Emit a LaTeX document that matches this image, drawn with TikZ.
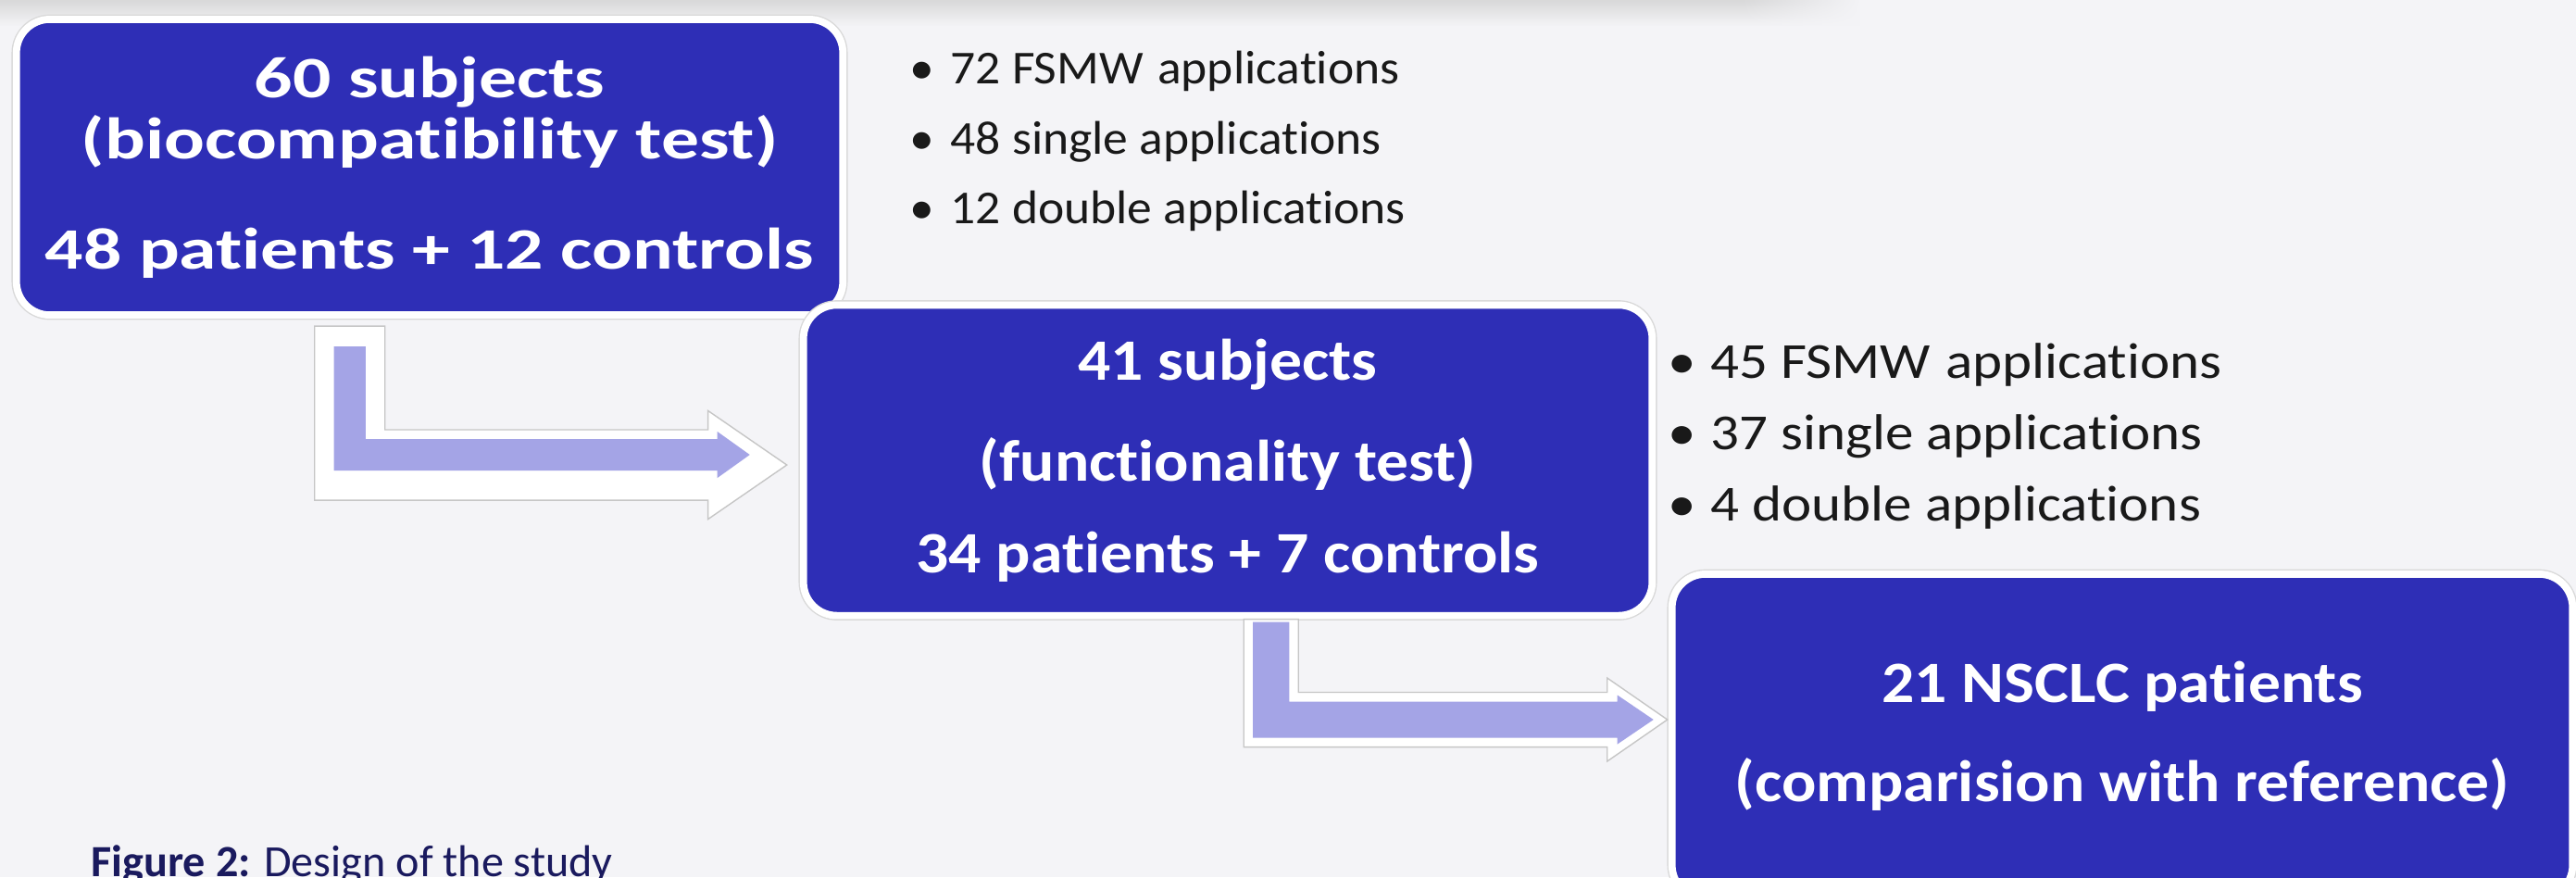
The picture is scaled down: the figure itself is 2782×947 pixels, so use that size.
\documentclass[tikz,border=0pt]{standalone}
\usepackage{fontspec}
\setmainfont[Ligatures={TeX,NoCommon}]{Carlito}
\newfontfamily\stagefont[FakeStretch=1.10,Ligatures={TeX,NoCommon}]{Carlito}
\newfontfamily\firststagefont[FakeStretch=1.29,Ligatures={TeX,NoCommon}]{Carlito}
\newfontfamily\countfont[FakeStretch=1.05,Ligatures={TeX,NoCommon}]{Carlito}
\newfontfamily\countfontb[FakeStretch=1.12,Ligatures={TeX,NoCommon}]{Carlito}
\usetikzlibrary{positioning,calc,fadings}

\definecolor{bgcol}{HTML}{F4F4F7}
\definecolor{boxblue}{HTML}{2E2EB6}
\definecolor{arrowlilac}{HTML}{A4A4E6}
\definecolor{capnavy}{HTML}{1A1A5E}

% bent block arrow: style, top of the stem, tip, half bar, half head, head length
\newcommand{\bentarrow}[6]{%
  \path[#1] let \p1=(#2), \p3=(#3) in
    (\x1-#4,\y1) -- (\x1+#4,\y1) -- (\x1+#4,\y3+#4) -- (\x3-#6,\y3+#4)
    -- (\x3-#6,\y3+#5) -- (\x3,\y3) -- (\x3-#6,\y3-#5) -- (\x3-#6,\y3-#4)
    -- (\x1-#4,\y3-#4) -- cycle;}

\begin{document}
\begin{tikzpicture}[x=0.01cm, y=-0.01cm,
    studybox/.style={rectangle, rounded corners=0.36cm, fill=boxblue, draw=white, line width=2.2pt,
        preaction={draw=gray!30, line width=3pt}, outer sep=0pt, inner sep=0pt,
        text=white, align=center, font=\stagefont\bfseries\fontsize{18}{21.3}\selectfont},
    bullettext/.style={anchor=base west, inner sep=0pt, text=black!90,
        font=\countfont\fontsize{14.5}{18}\selectfont},
    arrowshade/.style={fill=white, draw=gray!45, line width=0.4pt},
    arrowcore/.style={fill=arrowlilac}
]
    \useasboundingbox (0,0) rectangle (2782,947);
    \clip (0,0) rectangle (2782,947);
    \fill[bgcol] (0,0) rectangle (2782,947);
    \fill[gray!30, path fading=south] (0,0) rectangle (2010,28);
    \fill[bgcol, path fading=west] (1880,0) rectangle (2012,30);

    % the three stages
    \node[studybox, minimum width=8.92cm, minimum height=3.19cm,
          font=\firststagefont\bfseries\fontsize{18}{21.3}\selectfont] (b1) at (464,180.5)
        {60 subjects\\[-2.6pt](biocompatibility test)\\[12.5pt]48 patients + 12 controls};
    \node[studybox, minimum width=9.16cm, minimum height=3.35cm] (b2) at (1326,497)
        {41 subjects\\[9.7pt](functionality test)\\[6.8pt]34 patients + 7 controls};
    \node[studybox, minimum width=9.72cm, minimum height=3.50cm] (b3) at (2292,795)
        {21 NSCLC patients\\[9.2pt](comparision with reference)};

    % arrows between the stages
    \coordinate (a1top) at ($(b1.south west)+(360,34)$);
    \coordinate (a1tip) at ($(b2.west)+(-58,-6)$);
    \coordinate (a2top) at ($(b2.south west)+(505,7)$);
    \coordinate (a2tip) at ($(b3.west)+(-20,-18)$);
    \bentarrow{arrowshade}{$(a1top)+(0,-22)$}{$(a1tip)+(40,11)$}{0.38cm}{0.585cm}{0.85cm}
    \bentarrow{arrowcore}{a1top}{a1tip}{0.17cm}{0.25cm}{0.35cm}
    \bentarrow{arrowshade}{$(a2top)+(0,-3)$}{$(a2tip)+(15,0)$}{0.295cm}{0.45cm}{0.65cm}
    \bentarrow{arrowcore}{a2top}{a2tip}{0.195cm}{0.265cm}{0.39cm}

    % counts of applications
    \node[bullettext] (l1a) at (982,90) {\makebox[0.44cm][l]{•}72 FSMW\hspace{0.3em}applications};
    \node[bullettext] (l1b) at (982,166) {\makebox[0.44cm][l]{•}48 single applications};
    \node[bullettext] (l1c) at (982,241) {\makebox[0.44cm][l]{•}12 double applications};
    \node[bullettext, font=\countfontb\fontsize{15.5}{18}\selectfont] (l2a) at (1801,408)
        {\makebox[0.46cm][l]{•}45 FSMW\hspace{0.3em}applications};
    \node[bullettext, font=\countfontb\fontsize{15.5}{18}\selectfont] (l2b) at (1801,485)
        {\makebox[0.46cm][l]{•}37 single applications};
    \node[bullettext, font=\countfontb\fontsize{15.5}{18}\selectfont] (l2c) at (1801,562)
        {\makebox[0.46cm][l]{•}4 double applications};

    \node[anchor=base west, inner sep=0pt, text=capnavy, font=\fontsize{13.7}{16}\selectfont]
        (cap) at (98,946) {\textbf{Figure 2:} Design of the study};
\end{tikzpicture}
\end{document}
